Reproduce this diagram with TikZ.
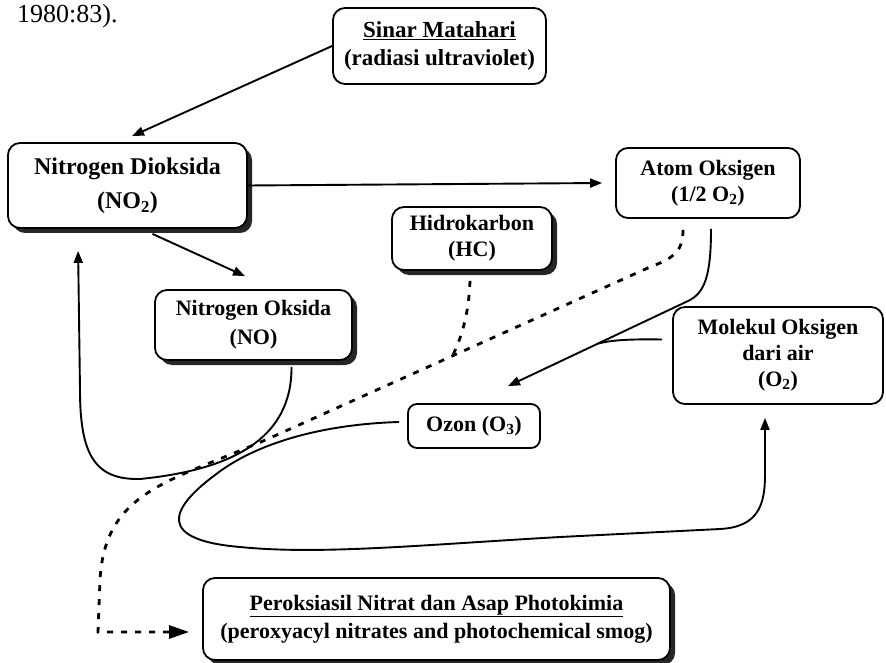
\documentclass[tikz,border=0pt]{standalone}
\usepackage{fontspec}
\setmainfont{Liberation Serif}
\usetikzlibrary{arrows.meta,calc,shadows}
\begin{document}
\begin{tikzpicture}[x=1pt,y=-1pt,
  box/.style={draw,line width=1.8pt,rounded corners=12pt,fill=white,align=center,inner sep=0pt,font=\bfseries\fontsize{22}{26}\selectfont},
  shad/.style={drop shadow={shadow xshift=5pt,shadow yshift=-5pt,opacity=1,fill=black!85}},
  conn/.style={line width=1.9pt,-{Triangle[length=12pt,width=9pt]}},
  solidline/.style={line width=1.9pt},
  dashline/.style={line width=2.8pt,dash pattern=on 6pt off 8pt},
  dashconn/.style={dashline,-{Triangle[length=20pt,width=13pt]}}
]
\useasboundingbox (0,0) rectangle (886,663);

\node[anchor=base west,inner sep=0pt,font=\fontsize{26}{28}\selectfont] (cite) at (17,23) {1980:83).};

\node[box,minimum width=213pt,minimum height=76pt,font=\bfseries\fontsize{23}{28}\selectfont] (sinar) at (439.5,46) {\underline{Sinar Matahari}\\(radiasi ultraviolet)};
\node[box,shad,minimum width=239pt,minimum height=85pt,font=\bfseries\fontsize{24}{34}\selectfont] (no2) at (127.5,185.5) {Nitrogen Dioksida\\(NO\textsubscript{2})};
\node[box,minimum width=184pt,minimum height=70pt] (atom) at (708,183) {Atom Oksigen\\(1/2 O\textsubscript{2})};
\node[box,shad,minimum width=160pt,minimum height=63pt] (hc) at (472,238.5) {Hidrokarbon\\(HC)};
\node[box,shad,minimum width=197pt,minimum height=70pt,font=\bfseries\fontsize{22}{29}\selectfont] (no) at (253.5,325) {Nitrogen Oksida\\(NO)};
\node[box,minimum width=210pt,minimum height=97pt] (mol) at (778,355.5) {Molekul Oksigen\\dari air\\(O\textsubscript{2})};
\node[box,rounded corners=9pt,minimum width=132pt,minimum height=44pt] (ozon) at (474,426) {Ozon (O\textsubscript{3})};
\node[box,shad,minimum width=467pt,minimum height=82pt,font=\bfseries\fontsize{22}{28}\selectfont] (per) at (436.5,619) {\underline{Peroksiasil Nitrat dan Asap Photokimia}\\(peroxyacyl nitrates and photochemical smog)};

% solid connectors
\draw[conn] (sinar.west) -- ($(no2.north)+(4.5,-6)$);
\draw[conn] (no2.east) -- ($(atom.west)+(-13,0)$);
\draw[conn] ($(no2.south)+(25,5)$) -- ($(no.north)+(-8.5,-13)$);
\draw[conn] ($(no.south)+(38,6)$) .. controls (292,440) and (230,470) .. (140,479)
  .. controls (95,480) and (80,455) .. (80,390) -- ($(no2.south west)+(71,22)$);

\coordinate (bend) at (688,301);
\coordinate (ozonTip) at ($(ozon.north)+(34,-17)$);
\coordinate (join) at ($(bend)!0.5!(ozonTip)$);
\draw[conn] ($(atom.south)+(3,10)$) .. controls (711,275) and (705,293) .. (bend) -- (ozonTip);
\draw[solidline] ($(mol.west)+(-10,-16)$) .. controls (630,339) and (612,340) .. (join);

\draw[conn] ($(ozon.west)+(-8,-4)$) .. controls (330,424) and (260,440) .. (215,475)
  .. controls (168,510) and (158,540) .. (240,547)
  .. controls (320,555) and (420,545) .. (560,537) -- (720,529)
  .. controls (758,527) and (765,505) .. (765,475) -- ($(mol.south)+(-13,13)$);

% dashed connectors
\coordinate (d1) at (650,267);
\coordinate (d2) at (270,438);
\coordinate (dmerge) at ($(d1)!0.52!(d2)$);
\draw[dashconn] ($(atom.south)+(-25,11)$) .. controls (683,250) and (675,258) .. (d1) -- (d2)
  .. controls (170,482) and (105,490) .. (100,580) -- (98,632) -- ($(per.west)+(-13,13)$);
\draw[dashline] ($(hc.south)+(-2,10)$) .. controls (469,310) and (463,335) .. (dmerge);
\end{tikzpicture}
\end{document}
